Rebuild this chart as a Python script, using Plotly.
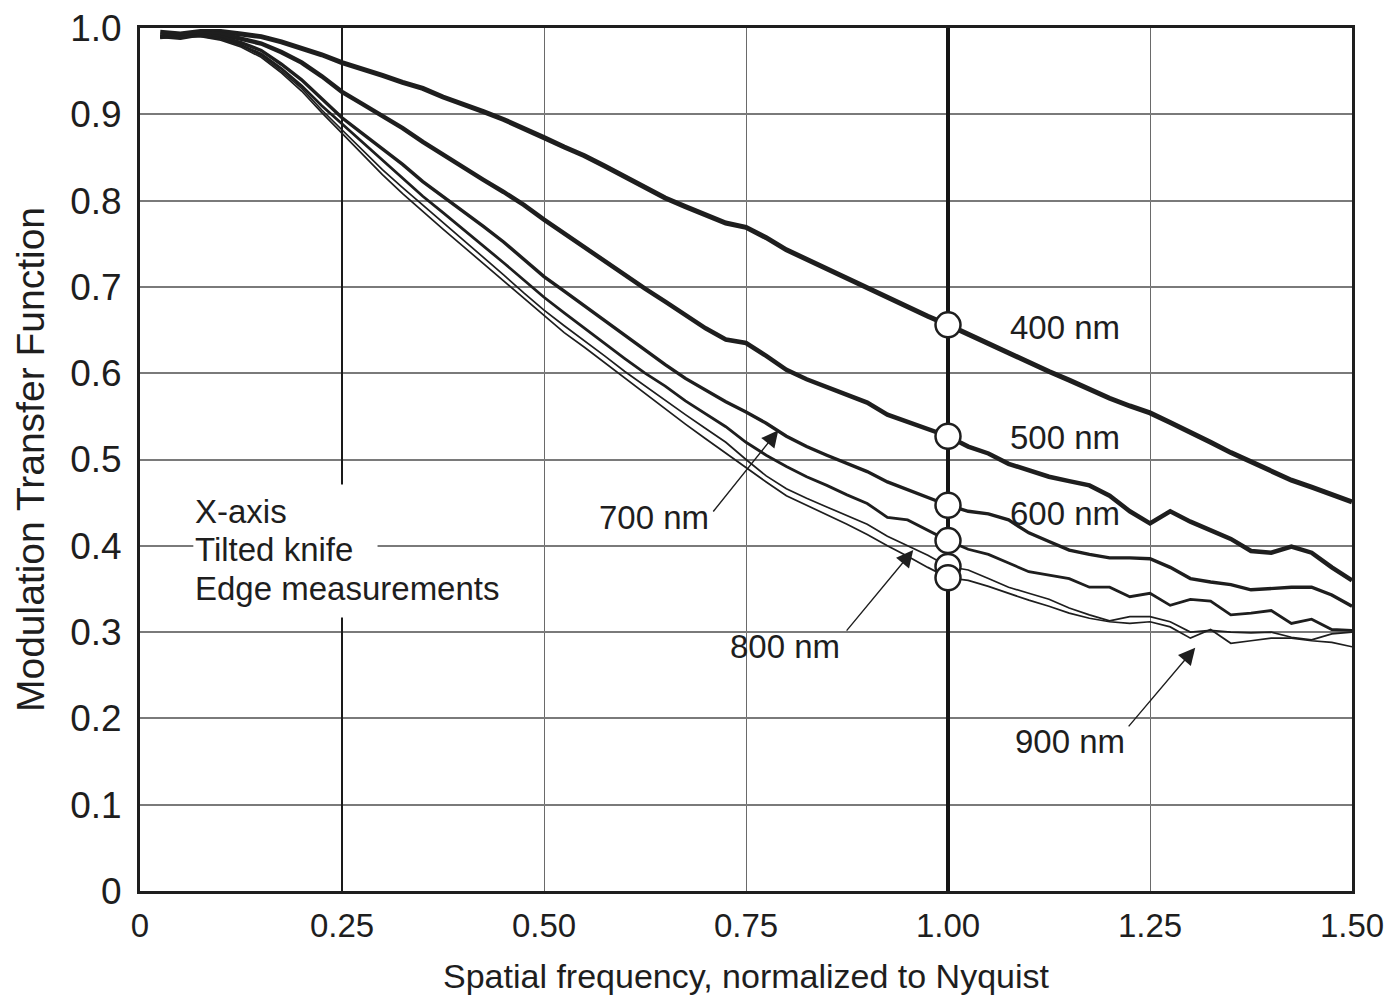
import plotly.graph_objects as go

# ---------------- data ----------------
FREQ = [0.025, 0.05, 0.075, 0.1, 0.125, 0.15, 0.175, 0.2, 0.225, 0.25,
        0.275, 0.3, 0.325, 0.35, 0.375, 0.4, 0.425, 0.45, 0.475, 0.5,
        0.525, 0.55, 0.575, 0.6, 0.625, 0.65, 0.675, 0.7, 0.725, 0.75,
        0.775, 0.8, 0.825, 0.85, 0.875, 0.9, 0.925, 0.95, 0.975, 1.0,
        1.025, 1.05, 1.075, 1.1, 1.125, 1.15, 1.175, 1.2, 1.225, 1.25,
        1.275, 1.3, 1.325, 1.35, 1.375, 1.4, 1.425, 1.45, 1.475, 1.5]

MTF_400 = [0.995, 0.993, 0.996, 0.996, 0.993, 0.990, 0.984, 0.977, 0.969, 0.960,
           0.953, 0.945, 0.937, 0.930, 0.920, 0.912, 0.903, 0.894, 0.884, 0.873,
           0.862, 0.852, 0.840, 0.828, 0.815, 0.803, 0.793, 0.784, 0.774, 0.769,
           0.757, 0.743, 0.732, 0.721, 0.710, 0.698, 0.688, 0.677, 0.666, 0.656,
           0.645, 0.634, 0.624, 0.613, 0.602, 0.592, 0.581, 0.571, 0.562, 0.554,
           0.543, 0.532, 0.520, 0.508, 0.497, 0.486, 0.476, 0.468, 0.459, 0.451]

MTF_500 = [0.990, 0.992, 0.994, 0.993, 0.988, 0.982, 0.972, 0.960, 0.944, 0.926,
           0.912, 0.898, 0.884, 0.868, 0.853, 0.838, 0.824, 0.810, 0.795, 0.778,
           0.762, 0.746, 0.730, 0.713, 0.698, 0.683, 0.668, 0.652, 0.639, 0.635,
           0.620, 0.604, 0.593, 0.584, 0.575, 0.566, 0.552, 0.544, 0.535, 0.527,
           0.515, 0.507, 0.495, 0.487, 0.480, 0.475, 0.470, 0.458, 0.440, 0.426,
           0.440, 0.428, 0.418, 0.408, 0.394, 0.392, 0.399, 0.392, 0.375, 0.360]

MTF_600 = [0.990, 0.988, 0.992, 0.990, 0.983, 0.974, 0.958, 0.940, 0.918, 0.896,
           0.878, 0.860, 0.842, 0.822, 0.805, 0.787, 0.770, 0.752, 0.732, 0.712,
           0.695, 0.678, 0.660, 0.643, 0.626, 0.610, 0.594, 0.580, 0.567, 0.555,
           0.542, 0.527, 0.515, 0.505, 0.496, 0.486, 0.474, 0.465, 0.455, 0.447,
           0.440, 0.437, 0.430, 0.415, 0.405, 0.395, 0.390, 0.386, 0.386, 0.385,
           0.375, 0.362, 0.358, 0.355, 0.349, 0.351, 0.352, 0.352, 0.343, 0.330]

MTF_700 = [0.990, 0.990, 0.991, 0.988, 0.980, 0.970, 0.953, 0.933, 0.910, 0.889,
           0.868, 0.847, 0.826, 0.805, 0.786, 0.767, 0.748, 0.728, 0.708, 0.688,
           0.670, 0.652, 0.634, 0.617, 0.600, 0.585, 0.568, 0.553, 0.538, 0.520,
           0.505, 0.492, 0.480, 0.470, 0.459, 0.449, 0.433, 0.430, 0.418, 0.406,
           0.396, 0.390, 0.380, 0.370, 0.366, 0.362, 0.352, 0.352, 0.341, 0.345,
           0.331, 0.338, 0.336, 0.320, 0.322, 0.325, 0.310, 0.315, 0.303, 0.302]

MTF_800 = [0.990, 0.988, 0.992, 0.988, 0.980, 0.968, 0.950, 0.930, 0.905, 0.882,
           0.858, 0.836, 0.815, 0.795, 0.774, 0.755, 0.735, 0.714, 0.693, 0.673,
           0.655, 0.638, 0.620, 0.602, 0.585, 0.568, 0.552, 0.536, 0.520, 0.500,
           0.481, 0.466, 0.455, 0.445, 0.435, 0.425, 0.411, 0.400, 0.389, 0.376,
           0.372, 0.362, 0.352, 0.345, 0.338, 0.328, 0.320, 0.313, 0.318, 0.318,
           0.312, 0.300, 0.302, 0.300, 0.299, 0.300, 0.294, 0.291, 0.298, 0.300]

MTF_900 = [0.988, 0.990, 0.990, 0.986, 0.978, 0.966, 0.948, 0.927, 0.902, 0.878,
           0.853, 0.830, 0.808, 0.787, 0.767, 0.747, 0.727, 0.706, 0.686, 0.666,
           0.647, 0.630, 0.612, 0.594, 0.576, 0.558, 0.541, 0.524, 0.507, 0.490,
           0.474, 0.458, 0.447, 0.436, 0.425, 0.413, 0.400, 0.388, 0.375, 0.363,
           0.360, 0.353, 0.345, 0.337, 0.330, 0.322, 0.316, 0.312, 0.310, 0.312,
           0.306, 0.293, 0.303, 0.287, 0.290, 0.293, 0.293, 0.290, 0.288, 0.283]

SERIES_NAMES = ["400 nm", "500 nm", "600 nm", "700 nm", "800 nm", "900 nm"]
SERIES = [MTF_400, MTF_500, MTF_600, MTF_700, MTF_800, MTF_900]

NYQUIST = 1.0
X_TICKS = [0, 0.25, 0.5, 0.75, 1.0, 1.25, 1.5]
X_TICK_TEXT = ["0", "0.25", "0.50", "0.75", "1.00", "1.25", "1.50"]
Y_TICKS = [0, 0.1, 0.2, 0.3, 0.4, 0.5, 0.6, 0.7, 0.8, 0.9, 1.0]
Y_TICK_TEXT = ["0", "0.1", "0.2", "0.3", "0.4", "0.5", "0.6", "0.7", "0.8", "0.9", "1.0"]

NOTE_LINES = ["X-axis", "Tilted knife", "Edge measurements"]

# ---------------- styling ----------------
INK = "#1e1e1e"
FONT = "Liberation Sans, Arial, Helvetica, sans-serif"
WIDTHS = [5, 4.5, 3.4, 2.8, 1.7, 1.7]

fig = go.Figure()

for name, vals, w in zip(SERIES_NAMES, SERIES, WIDTHS):
    assert len(vals) == len(FREQ)
    fig.add_trace(go.Scatter(x=FREQ, y=vals, mode="lines", name=name,
                             line=dict(color=INK, width=w),
                             showlegend=False, hoverinfo="x+y+name"))

# circles at the Nyquist frequency, taken from each series
ny_idx = FREQ.index(NYQUIST)
fig.add_trace(go.Scatter(
    x=[FREQ[ny_idx]] * len(SERIES),
    y=[s[ny_idx] for s in SERIES],
    mode="markers", showlegend=False,
    marker=dict(symbol="circle", size=25, color="white",
                line=dict(color=INK, width=2.5)),
    hoverinfo="skip"))

# emphasised vertical lines (0.25 darker, Nyquist thick)
fig.add_shape(type="line", xref="x", yref="y", x0=0.25, x1=0.25, y0=0, y1=1,
              line=dict(color="#1a1a1a", width=2), layer="between")
fig.add_shape(type="line", xref="x", yref="y", x0=NYQUIST, x1=NYQUIST, y0=0, y1=1,
              line=dict(color="#151515", width=4), layer="between")

# white patches behind the note text (hide gridlines there)
fig.add_shape(type="rect", xref="x", yref="y", x0=0.066, x1=0.294,
              y0=0.375, y1=0.471, fillcolor="white", line=dict(width=0),
              layer="between")
fig.add_shape(type="rect", xref="x", yref="y", x0=0.066, x1=0.465,
              y0=0.317, y1=0.376, fillcolor="white", line=dict(width=0),
              layer="between")

ann_font = dict(family=FONT, size=33, color=INK)

for txt, yv in zip(NOTE_LINES, [0.440, 0.396, 0.351]):
    fig.add_annotation(x=0.066, y=yv, xref="x", yref="y", text=txt,
                       showarrow=False, xanchor="left", yanchor="middle",
                       align="left", font=ann_font)

# right-side labels
for txt, yv in [("400 nm", 0.653), ("500 nm", 0.525), ("600 nm", 0.437)]:
    fig.add_annotation(x=1.145, y=yv, xref="x", yref="y", text=txt,
                       showarrow=False, xanchor="center", yanchor="middle",
                       font=ann_font)

# labels with arrows
for txt, lx, ly, tx, ty, hx, hy in [
        ("700 nm", 0.636, 0.433, 0.708, 0.438, 0.790, 0.534),
        ("800 nm", 0.798, 0.283, 0.873, 0.300, 0.957, 0.395),
        ("900 nm", 1.151, 0.173, 1.222, 0.189, 1.306, 0.282)]:
    fig.add_annotation(x=lx, y=ly, xref="x", yref="y", text=txt,
                       showarrow=False, xanchor="center", yanchor="middle",
                       font=ann_font)
    fig.add_annotation(x=hx, y=hy, ax=tx, ay=ty, xref="x", yref="y",
                       axref="x", ayref="y", text="", showarrow=True,
                       arrowhead=2, arrowsize=2.4, arrowwidth=1.4,
                       arrowcolor=INK, standoff=0, startstandoff=0)

axis_common = dict(showline=True, linecolor=INK, linewidth=3, mirror=True,
                   ticks="", zeroline=False)

fig.update_xaxes(range=[0, 1.5], tickvals=X_TICKS, ticktext=X_TICK_TEXT,
                 showgrid=True, gridcolor="#6a6a6a", gridwidth=1.3,
                 ticklabelstandoff=3,
                 tickfont=dict(family=FONT, size=33, color=INK),
                 title=dict(text="Spatial frequency, normalized to Nyquist",
                            font=dict(family=FONT, size=34, color=INK),
                            standoff=22),
                 **axis_common)
fig.update_yaxes(range=[0, 1.0], tickvals=Y_TICKS, ticktext=Y_TICK_TEXT,
                 showgrid=True, gridcolor="#7a7a7a", gridwidth=2,
                 ticklabelstandoff=8,
                 tickfont=dict(family=FONT, size=37, color=INK),
                 title=dict(text="Modulation Transfer Function",
                            font=dict(family=FONT, size=39, color=INK),
                            standoff=14),
                 **axis_common)

fig.update_layout(width=1387, height=1002,
                  margin=dict(l=140, r=35, t=28, b=111, autoexpand=False),
                  paper_bgcolor="white", plot_bgcolor="white",
                  showlegend=False)

# remove the default 8 px page margin so the figure fills the window exactly
fig.write_html("out.html",
               config={"displayModeBar": False},
               post_script="document.body.style.margin='0';"
                           "document.body.style.overflow='hidden';")
